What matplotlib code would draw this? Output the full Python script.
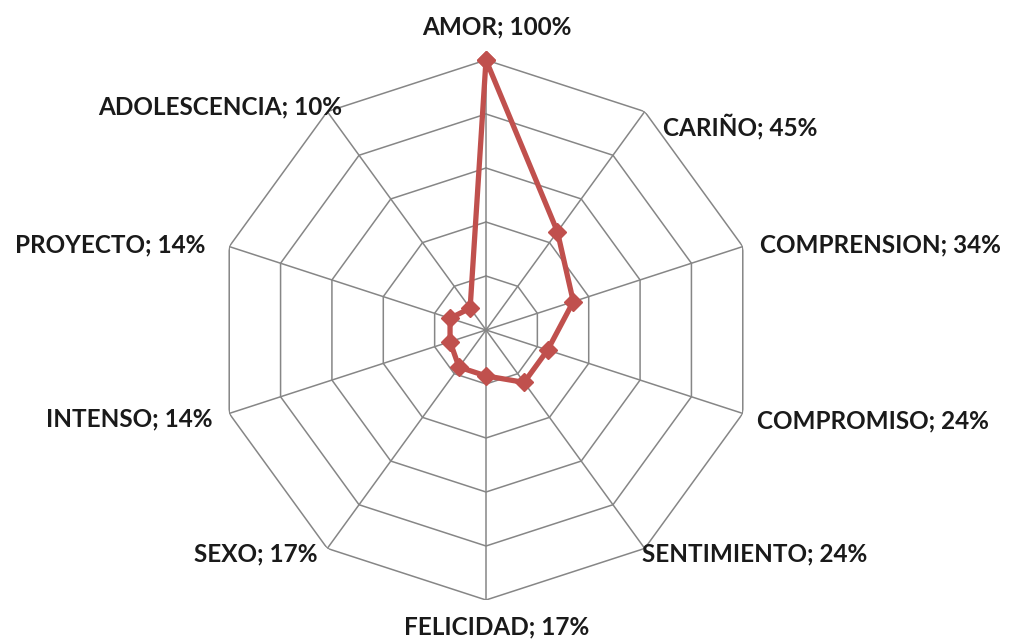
import numpy as np
import matplotlib
matplotlib.use("Agg")
import matplotlib.pyplot as plt

categories = ["AMOR", "CARIÑO", "COMPRENSION", "COMPROMISO", "SENTIMIENTO",
              "FELICIDAD", "SEXO", "INTENSO", "PROYECTO", "ADOLESCENCIA"]
values = [100, 45, 34, 24, 24, 17, 17, 14, 14, 10]
ring_levels = [20, 40, 60, 80, 100]

# label offsets from the outer vertex, in pixels, plus alignment
label_pos = [
    (11, 33, "center"), (18, -15, "left"), (17, 2, "left"), (14, -7, "left"),
    (-3, -5, "left"), (11, -27, "center"), (-10, -5, "right"), (-17, -5, "right"),
    (-24, 2, "right"), (15, 5, "right"),
]

n = len(categories)
theta = np.arange(n) * 2 * np.pi / n

fig = plt.figure(figsize=(10.24, 6.39), dpi=100)
ax = fig.add_axes([216 / 1024, 39 / 639, 540 / 1024, 540 / 639], projection="polar")
ax.set_theta_zero_location("N")
ax.set_theta_direction(-1)
ax.set_ylim(0, 100)
ax.grid(False)
ax.spines["polar"].set_visible(False)
ax.set_xticks([])
ax.set_yticks([])
ax.patch.set_alpha(0)

grid_color = "#868686"
closed_theta = np.append(theta, theta[0])
for level in ring_levels:
    ax.plot(closed_theta, [level] * (n + 1), color=grid_color, lw=1.1, zorder=1)
for t in theta:
    ax.plot([t, t], [0, 100], color=grid_color, lw=1.1, zorder=1)

ax.plot(closed_theta, values + values[:1], color="#C0504D", lw=3.8,
        marker="D", markersize=9, zorder=3, clip_on=False)

for t, cat, val, (dx, dy, ha) in zip(theta, categories, values, label_pos):
    ax.annotate(f"{cat}; {val}%", xy=(t, 100), xytext=(dx, dy),
                textcoords="offset pixels", ha=ha, va="center",
                fontsize=17.5, fontweight="bold", family=["Lato", "DejaVu Sans"],
                color="#1a1a1a", annotation_clip=False)

fig.savefig("out.png", dpi=100, facecolor="white")
